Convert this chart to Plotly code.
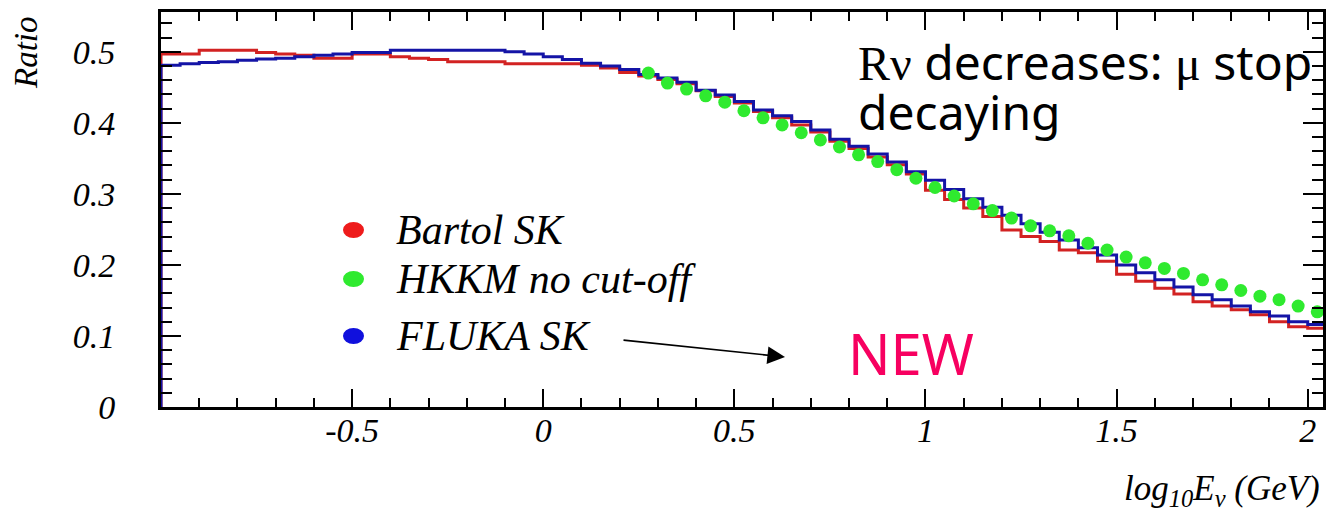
import plotly.graph_objects as go

# ---------------- data ----------------
bin_width = 0.05
x_start = -1.0
n_bins = 61

bartol_sk = [0.497, 0.497, 0.502, 0.502, 0.502, 0.499, 0.497, 0.495, 0.491, 0.491,
             0.497, 0.497, 0.493, 0.491, 0.489, 0.486, 0.486, 0.486, 0.483, 0.483,
             0.483, 0.483, 0.481, 0.477, 0.471, 0.466, 0.461, 0.455, 0.445, 0.437,
             0.428, 0.416, 0.407, 0.397, 0.387, 0.374, 0.364, 0.352, 0.341, 0.328,
             0.305, 0.292, 0.280, 0.268, 0.249, 0.240, 0.233, 0.221, 0.217, 0.205,
             0.187, 0.177, 0.167, 0.159, 0.148, 0.142, 0.137, 0.130, 0.120, 0.113,
             0.111]

fluka_sk = [0.481, 0.483, 0.485, 0.486, 0.488, 0.490, 0.491, 0.493, 0.495, 0.497,
            0.499, 0.499, 0.502, 0.502, 0.502, 0.502, 0.502, 0.502, 0.500, 0.497,
            0.493, 0.489, 0.484, 0.480, 0.475, 0.468, 0.463, 0.457, 0.446, 0.439,
            0.430, 0.418, 0.410, 0.402, 0.390, 0.377, 0.367, 0.356, 0.345, 0.331,
            0.319, 0.306, 0.293, 0.281, 0.270, 0.258, 0.246, 0.235, 0.224, 0.214,
            0.200, 0.189, 0.179, 0.169, 0.158, 0.151, 0.142, 0.134, 0.128, 0.120,
            0.116]

hkkm_x = [0.275, 0.325, 0.375, 0.425, 0.475, 0.525, 0.575, 0.625, 0.675, 0.725,
          0.775, 0.825, 0.875, 0.925, 0.975, 1.025, 1.075, 1.125, 1.175, 1.225,
          1.275, 1.325, 1.375, 1.425, 1.475, 1.525, 1.575, 1.625, 1.675, 1.725,
          1.775, 1.825, 1.875, 1.925, 1.975, 2.025]
hkkm_no_cutoff = [0.470, 0.456, 0.4475, 0.438, 0.429, 0.417, 0.407, 0.397, 0.386, 0.376,
                  0.366, 0.355, 0.3455, 0.334, 0.322, 0.309, 0.297, 0.286, 0.2765, 0.266,
                  0.255, 0.248, 0.241, 0.2305, 0.221, 0.211, 0.203, 0.195, 0.188, 0.179,
                  0.172, 0.164, 0.156, 0.151, 0.142, 0.134]

x_tickvals = [-0.5, 0, 0.5, 1, 1.5, 2]
x_ticktext = ["-0.5", "0", "0.5", "1", "1.5", "2"]
y_tickvals = [0, 0.1, 0.2, 0.3, 0.4, 0.5]
y_ticktext = ["0", "0.1", "0.2", "0.3", "0.4", "0.5"]

# ---------------- geometry helpers ----------------
W, H = 1326, 514
L, R, T, B = 161, 3, 12, 107
PW, PH = W - L - R, H - T - B


def pxx(px):
    return (px - L) / PW


def pxy(py):
    return (H - B - py) / PH


edges = [x_start + bin_width * i for i in range(n_bins + 1)]


def step_xy(vals):
    xs = [edges[0]] + edges[:n_bins] + [edges[n_bins]]
    ys = [0.0] + list(vals) + [vals[-1]]
    return xs, ys


RED = "#D22222"
BLUE = "#1414A6"
GREEN = "#2FEA2F"

fig = go.Figure()
bx, by = step_xy(bartol_sk)
fig.add_trace(go.Scatter(x=bx, y=by, mode="lines", line=dict(color=RED, width=3, shape="hv"),
                         name="Bartol SK", showlegend=False))
fx, fy = step_xy(fluka_sk)
fig.add_trace(go.Scatter(x=fx, y=fy, mode="lines", line=dict(color=BLUE, width=3, shape="hv"),
                         name="FLUKA SK", showlegend=False))
fig.add_trace(go.Scatter(x=hkkm_x, y=hkkm_no_cutoff, mode="markers",
                         marker=dict(color=GREEN, size=13, line=dict(width=0)),
                         name="HKKM no cut-off", showlegend=False))

serif_it = dict(family="Liberation Serif", style="italic", color="black")

fig.update_xaxes(range=[-1.0, 2.04], tickvals=x_tickvals, ticktext=x_ticktext, ticks="inside", ticklen=18,
                 tickwidth=2, automargin=False,
                 tickcolor="black", showline=True, linewidth=3, linecolor="black", mirror="allticks",
                 showgrid=False, zeroline=False, tickfont=dict(size=34, **serif_it),
                 ticklabelstandoff=-9,
                 minor=dict(dtick=0.1, tick0=0, ticks="inside", ticklen=9, tickwidth=2, tickcolor="black",
                            showgrid=False))
fig.update_yaxes(range=[0, 0.556], tickvals=y_tickvals, ticktext=y_ticktext, ticks="inside", ticklen=20,
                 tickwidth=2, automargin=False,
                 tickcolor="black", showline=True, linewidth=3, linecolor="black", mirror="allticks",
                 showgrid=False, zeroline=False, tickfont=dict(size=34, **serif_it),
                 ticklabelstandoff=36,
                 minor=dict(dtick=0.02, tick0=0, ticks="inside", ticklen=11, tickwidth=2, tickcolor="black",
                            showgrid=False))

annotations = []
# axis titles
annotations.append(dict(xref="paper", yref="paper", x=pxx(26), y=pxy(53), text="Ratio", showarrow=False,
                        textangle=-90, font=dict(size=33, **serif_it), xanchor="center", yanchor="middle"))
annotations.append(dict(xref="paper", yref="paper", x=pxx(1322), y=pxy(490),
                        text="log<sub>10</sub>E<sub>ν</sub> (GeV)", showarrow=False,
                        font=dict(size=35, **serif_it), xanchor="right", yanchor="middle"))
# legend
legend_items = [("Bartol SK", "#EE1B1B", 230), ("HKKM no cut-off", GREEN, 279), ("FLUKA SK", "#1010DD", 336)]
shapes = []
for label, col, cy in legend_items:
    shapes.append(dict(type="circle", xref="paper", yref="paper",
                       x0=pxx(343), x1=pxx(364), y0=pxy(cy + 8), y1=pxy(cy - 8),
                       fillcolor=col, line=dict(width=0)))
    annotations.append(dict(xref="paper", yref="paper", x=pxx(394), y=pxy(cy), text=label, showarrow=False,
                            font=dict(size=42, **serif_it), xanchor="left", yanchor="middle"))
# arrow (tail at 622,340 -> head at 785,357)
annotations.append(dict(xref="paper", yref="paper", x=pxx(785), y=pxy(357), ax=622 - 785, ay=340 - 357,
                        axref="pixel", ayref="pixel", text="", showarrow=True, arrowhead=2,
                        arrowsize=2.2, arrowwidth=1.6, arrowcolor="black"))
# NEW
annotations.append(dict(xref="paper", yref="paper", x=pxx(846), y=pxy(353), text="NEW", showarrow=False,
                        font=dict(family="Noto Sans", size=56, color="#F70060"), xanchor="left",
                        yanchor="middle"))
# text block
annotations.append(dict(xref="paper", yref="paper", x=pxx(856), y=pxy(61),
                        text="<span style='font-family:Liberation Serif'>Rν</span> decreases: "
                             "<span style='font-family:Liberation Serif'>μ</span> stop",
                        showarrow=False, font=dict(family="Noto Sans", size=48, color="black"),
                        xanchor="left", yanchor="middle", align="left"))
annotations.append(dict(xref="paper", yref="paper", x=pxx(856), y=pxy(111), text="decaying",
                        showarrow=False, font=dict(family="Noto Sans", size=48, color="black"),
                        xanchor="left", yanchor="middle", align="left"))

fig.update_layout(width=W, height=H, margin=dict(l=L, r=R, t=T, b=B, pad=0, autoexpand=False),
                  paper_bgcolor="white", plot_bgcolor="white", showlegend=False,
                  annotations=annotations, shapes=shapes)

fig.write_html("out.html", config={"displayModeBar": False},
               post_script="document.body.style.margin='0';document.body.style.overflow='hidden';")
